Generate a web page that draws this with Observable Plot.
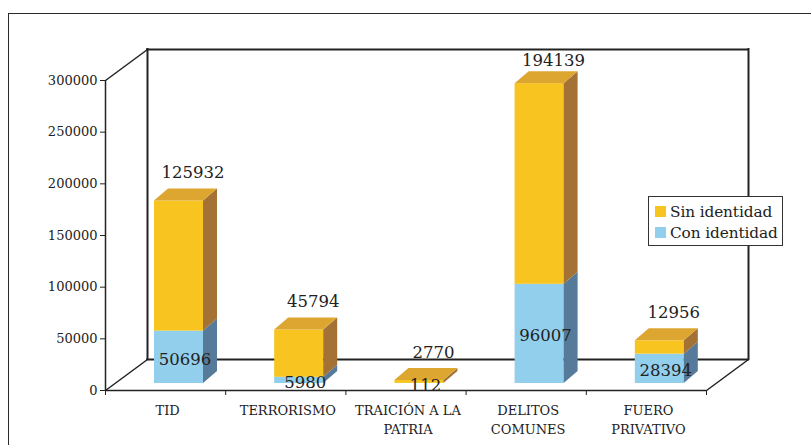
<!DOCTYPE html>
<html><head><meta charset="utf-8">
<script src="https://cdn.jsdelivr.net/npm/d3@7"></script>
<script src="https://cdn.jsdelivr.net/npm/@observablehq/plot@0.6"></script>
<style>
html,body{margin:0;padding:0;background:#fff;}
#wrap{position:relative;width:811px;height:445px;overflow:hidden;font-family:"DejaVu Serif",serif;}
#border{position:absolute;left:8px;top:13px;width:900px;height:600px;border:1.6px solid #2a2a2a;box-sizing:border-box;}
#chart{position:absolute;left:0;top:0;}
#legend{position:absolute;left:648px;top:196px;width:135px;height:50px;box-sizing:border-box;border:1.3px solid #333;background:#fff;padding:4px 0 0 6px;}
.row{display:flex;align-items:center;height:21px;font-size:15.3px;color:#222;white-space:nowrap;letter-spacing:-0.1px;}
.sw{width:11px;height:11px;margin-right:4px;flex:none;}
</style></head>
<body><div id="wrap"><div id="border"></div><div id="chart"></div><div id="legend"></div></div>
<script>
// ---- data ----
const categories = ["TID", "TERRORISMO", "TRAICIÓN A LA PATRIA", "DELITOS COMUNES", "FUERO PRIVATIVO"];
const categoryLine1 = ["TID", "TERRORISMO", "TRAICIÓN A LA", "DELITOS", "FUERO"];
const categoryLine2 = ["", "", "PATRIA", "COMUNES", "PRIVATIVO"];
const conIdentidad = [50696, 5980, 112, 96007, 28394];
const sinIdentidad = [125932, 45794, 2770, 194139, 12956];
const seriesNames = ["Con identidad", "Sin identidad"]; // stack order, bottom to top
const yTicks = [0, 50000, 100000, 150000, 200000, 250000, 300000];

// ---- styles ----
const frontColor = ["#92CFEC", "#F7C420"];
const sideColor = ["#567A99", "#A47234"];
const topColor = ["#7FB3D0", "#DDA630"];
const ink = "#222";

// ---- layout ----
const W = 811, H = 445, mL = 105, mR = 105, mT = 80, mB = 55;
const yMax = yTicks[yTicks.length - 1];
const kx = (W - mL - mR) / categories.length;
const ky = (H - mT - mB) / yMax;
const ux = px => px / kx, uy = px => px / ky;
const bar = {left: 49, width: 49, depthX: 14, depthY: 12, lift: 7};
const wall = {dx: 42, dy: 31};

const seriesValues = [conIdentidad, sinIdentidad];
const segments = [];
categories.forEach((c, i) => {
  let base = 0;
  seriesValues.forEach((vals, s) => {
    const v = vals[i];
    segments.push({i, s, v0: base, v1: base + v, value: v, id: i + "-" + s, top: s === seriesValues.length - 1});
    base += v;
  });
});

const xL = d => d.i + ux(bar.left);
const xR = d => d.i + ux(bar.left + bar.width);
const sideData = segments.flatMap(d => [
  {id: d.id, s: d.s, x: xR(d), y1: d.v0, y2: d.v1},
  {id: d.id, s: d.s, x: xR(d) + ux(bar.depthX), y1: d.v0 + uy(bar.depthY), y2: d.v1 + uy(bar.depthY)}
]);
const topData = segments.filter(d => d.top).flatMap(d => [
  {id: d.id, s: d.s, y: d.v1, x1: xL(d), x2: xR(d)},
  {id: d.id, s: d.s, y: d.v1 + uy(bar.depthY), x1: xL(d) + ux(bar.depthX), x2: xR(d) + ux(bar.depthX)}
]);
const corners = [{x: 0, y: yMax}, {x: 0, y: 0}, {x: categories.length, y: 0}];
const catIdx = categories.map((c, i) => i);
// top label position: above the bar's top face, kept below the back wall's top edge
const topLabelY = i => Math.min(conIdentidad[i] + sinIdentidad[i] + uy(35), yMax + uy(20));

const plot = Plot.plot({
  width: W, height: H,
  marginLeft: mL, marginRight: mR, marginTop: mT, marginBottom: mB,
  style: {fontFamily: "DejaVu Serif, serif", fontSize: "13px", background: "transparent", color: ink, overflow: "visible"},
  color: {type: "identity"},
  x: {domain: [0, categories.length], ticks: d3.range(0, categories.length + 1), tickFormat: () => "", tickSize: 5, label: null},
  y: {domain: [0, yMax], ticks: yTicks, tickFormat: d => String(d), tickSize: 5, tickPadding: 3, label: null},
  marks: [
    // back wall
    Plot.ruleY([0, yMax], {dx: wall.dx, dy: -wall.dy, stroke: ink, strokeWidth: 2, strokeLinecap: "square"}),
    Plot.ruleX([0, categories.length], {dx: wall.dx, dy: -wall.dy, stroke: ink, strokeWidth: 2, strokeLinecap: "square"}),
    Plot.link(corners, {x1: "x", y1: "y", x2: d => d.x + ux(wall.dx), y2: d => d.y + uy(wall.dy), stroke: ink, strokeWidth: 1.5}),
    // front axes
    Plot.ruleX([0], {stroke: ink, strokeWidth: 1.5}),
    Plot.ruleY([0], {stroke: ink, strokeWidth: 1.5}),
    // bars
    Plot.rectY(segments, {x1: xL, x2: xR, y1: "v0", y2: "v1", fill: d => frontColor[d.s], dy: -bar.lift}),
    Plot.areaY(sideData, {x: "x", y1: "y1", y2: "y2", z: "id", fill: d => sideColor[d.s], dy: -bar.lift}),
    Plot.areaX(topData, {y: "y", x1: "x1", x2: "x2", z: "id", fill: d => topColor[d.s], dy: -bar.lift}),
    // value labels
    Plot.text(catIdx, {x: i => i + ux(bar.left + bar.width / 2 + 6), y: i => conIdentidad[i] / 2, text: i => String(conIdentidad[i]), dy: -5, fontSize: 16.5, fill: ink}),
    Plot.text(catIdx, {x: i => i + ux(bar.left + bar.width / 2 + bar.depthX), y: topLabelY, text: i => String(sinIdentidad[i]), fontSize: 16.5, fill: ink}),
    // category labels
    Plot.text(catIdx, {x: i => i + 0.5, y: 0, text: i => categoryLine1[i], dy: 20, dx: 2, fontSize: 13, fill: ink}),
    Plot.text(catIdx, {x: i => i + 0.5, y: 0, text: i => categoryLine2[i], dy: 39.5, dx: 2, fontSize: 13, fill: ink})
  ]
});
document.getElementById("chart").appendChild(plot);

// legend (top series first)
const legend = document.getElementById("legend");
seriesNames.map((n, s) => ({n, s})).reverse().forEach(({n, s}) => {
  const row = document.createElement("div");
  row.className = "row";
  const sw = document.createElement("span");
  sw.className = "sw";
  sw.style.background = frontColor[s];
  const t = document.createElement("span");
  t.textContent = n;
  row.appendChild(sw); row.appendChild(t);
  legend.appendChild(row);
});
</script>
</body></html>
